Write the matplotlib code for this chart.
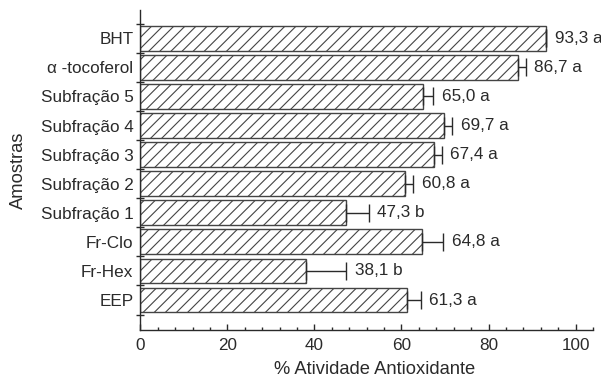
import numpy as np
import matplotlib
matplotlib.use("Agg")
import matplotlib.pyplot as plt
from matplotlib.ticker import MultipleLocator, FixedLocator

plt.rcParams['font.family'] = ['Liberation Sans', 'DejaVu Sans']
plt.rcParams['hatch.linewidth'] = 0.8

# bottom to top
samples = ["EEP", "Fr-Hex", "Fr-Clo", "Subfração 1", "Subfração 2",
           "Subfração 3", "Subfração 4", "Subfração 5", "α -tocoferol", "BHT"]
activity = [61.3, 38.1, 64.8, 47.3, 60.8, 67.4, 69.7, 65.0, 86.7, 93.3]
errors = [3.2, 9.2, 4.8, 5.2, 1.9, 1.9, 2.0, 2.3, 1.9, 0.0]
letters = ["a", "b", "a", "b", "a", "a", "a", "a", "a", "a"]

ink = "#2a2a2a"

fig = plt.figure(figsize=(6.01, 3.80), dpi=100)
ax = fig.add_axes([0.2334, 0.1316, 0.7533, 0.842])

y = np.arange(len(samples))
ax.barh(y, activity, height=0.85, color="white", edgecolor="#444444",
        linewidth=1.0, hatch="///", zorder=2)
ax.errorbar(activity, y, xerr=[np.zeros(len(errors)), errors], fmt="none",
            ecolor=ink, elinewidth=1.0, capsize=6.5, capthick=1.0, zorder=3)

for yi, v, e, lt in zip(y, activity, errors, letters):
    label = f"{v:.1f}".replace(".", ",") + " " + lt
    ax.annotate(label, xy=(v + e, yi), xytext=(6, 0), textcoords="offset points",
                va="center", ha="left", fontsize=12.3, color=ink)

ax.set_xlim(0, 104)
ax.set_ylim(-1.03, 9.97)
ax.xaxis.set_major_locator(MultipleLocator(20))
ax.xaxis.set_minor_locator(MultipleLocator(4))
ax.yaxis.set_major_locator(FixedLocator(np.arange(-0.5, 10, 1.0)))
ax.yaxis.set_minor_locator(FixedLocator(y))
ax.set_yticklabels([])
ax.set_yticklabels(samples, minor=True)

ax.tick_params(axis="x", which="major", direction="in", length=4, width=1,
               color=ink, labelsize=12.3, labelcolor=ink, pad=6)
ax.tick_params(axis="x", which="minor", direction="in", length=2.5, width=1, color=ink)
ax.tick_params(axis="y", which="major", direction="inout", length=5.5, width=1, color=ink)
ax.tick_params(axis="y", which="minor", length=0, labelsize=12.3, labelcolor=ink, pad=5)

for side in ("top", "right"):
    ax.spines[side].set_visible(False)
for side in ("left", "bottom"):
    ax.spines[side].set_color(ink)
    ax.spines[side].set_linewidth(1.0)

ax.set_xlabel("% Atividade Antioxidante", fontsize=13.2, color=ink)
ax.set_ylabel("Amostras", fontsize=13.2, color=ink)
ax.xaxis.set_label_coords(0.518, -0.097)
ax.yaxis.set_label_coords(-0.25, 0.5)

fig.savefig("out.png", dpi=100)
